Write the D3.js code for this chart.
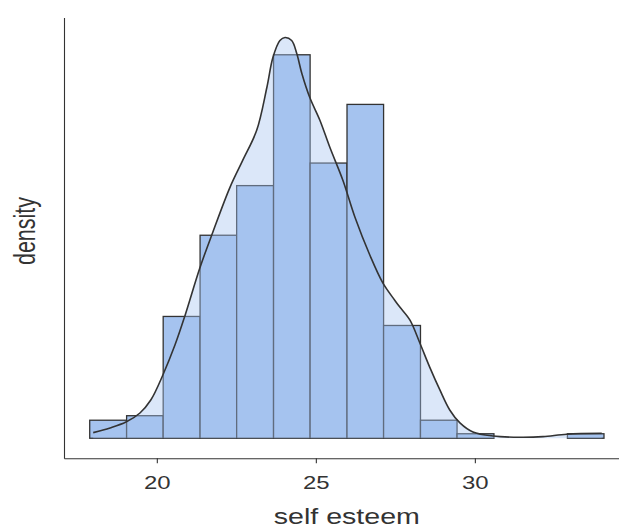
<!DOCTYPE html>
<html>
<head>
<meta charset="UTF-8">
<title>self esteem</title>
<script src="https://d3js.org/d3.v7.min.js"></script>
<style>
  body { margin: 0; background: #fff; }
  svg text { font-family: "Liberation Sans", Arial, sans-serif; fill: #333; }
  .axis path, .axis line { stroke: #333; stroke-width: 1.1px; }
</style>
</head>
<body>
<div class="display"></div>
<script>
// histogram bins (self esteem) and counts
const binEdges = [17.89, 19.05, 20.2, 21.36, 22.51, 23.67, 24.82, 25.98, 27.13, 28.29, 29.44, 30.6, 31.75, 32.91, 34.06];
const binCounts = [4, 5, 27, 45, 56, 85, 61, 74, 25, 4, 1, 0, 0, 1];

// kernel density estimate
const densityX = [18.0, 18.53, 19.03, 19.47, 19.81, 20.19, 20.57, 20.88, 21.35, 21.76, 22.3, 22.7, 23.14, 23.46, 23.65, 23.87, 24.03, 24.24, 24.4, 24.56, 24.81, 25.13, 25.44, 25.85, 26.23, 26.7, 27.11, 27.48, 27.64, 27.96, 28.27, 28.58, 28.9, 29.21, 29.53, 29.94, 30.57, 31.42, 32.14, 32.89, 33.99];
const densityY = [0.0028, 0.0051, 0.008, 0.0125, 0.0189, 0.0313, 0.0461, 0.0604, 0.0841, 0.1019, 0.1241, 0.1374, 0.1523, 0.1735, 0.1883, 0.1967, 0.1982, 0.1967, 0.1903, 0.1804, 0.1685, 0.1572, 0.1439, 0.1276, 0.1093, 0.0905, 0.0767, 0.0683, 0.0649, 0.0584, 0.0471, 0.0352, 0.0239, 0.014, 0.0076, 0.0031, 0.0011, 0.0005, 0.0008, 0.002, 0.0024];

const xTicks = [20, 25, 30];
const xTitle = 'self esteem';
const yTitle = 'density';

const W = 619, H = 529;
const stretch = 1.33;

const svg = d3.select('.display').append('svg')
  .attr('width', W)
  .attr('height', H);

const total = d3.sum(binCounts);
const binWidth = (binEdges[binEdges.length - 1] - binEdges[0]) / binCounts.length;
const bins = binCounts.map((c, i) => ({ x0: binEdges[i], x1: binEdges[i + 1], d: c / (total * binWidth) }));
const curve = densityX.map((x, i) => ({ x: x, y: densityY[i] }));

const xExt = d3.extent(binEdges);
const xPad = (xExt[1] - xExt[0]) * 0.05;
const x = d3.scaleLinear()
  .domain([xExt[0] - xPad, xExt[1] + xPad])
  .range([64, 629.7]);

const yMax = Math.max(d3.max(bins, b => b.d), d3.max(densityY));
const y = d3.scaleLinear()
  .domain([-0.05 * yMax, 1.05 * yMax])
  .range([458.3, 17.5]);

// bars
svg.append('g').selectAll('rect')
  .data(bins)
  .enter()
  .append('rect')
  .attr('x', d => x(d.x0))
  .attr('y', d => y(d.d))
  .attr('width', d => x(d.x1) - x(d.x0))
  .attr('height', d => y(0) - y(d.d))
  .attr('fill', '#a5c3ef')
  .attr('stroke', '#333')
  .attr('stroke-width', 1.3);

// density
const area = d3.area()
  .x(d => x(d.x))
  .y0(y(0))
  .y1(d => y(d.y))
  .curve(d3.curveCatmullRom);
const line = d3.line()
  .x(d => x(d.x))
  .y(d => y(d.y))
  .curve(d3.curveCatmullRom);

svg.append('path')
  .datum(curve)
  .attr('d', area)
  .attr('fill', 'rgba(165,195,239,0.4)');
svg.append('path')
  .datum(curve)
  .attr('d', line)
  .attr('fill', 'none')
  .attr('stroke', '#333')
  .attr('stroke-width', 1.6);

// axes
const xAxis = svg.append('g')
  .attr('class', 'axis')
  .attr('transform', `translate(0, ${y.range()[0]})`)
  .call(d3.axisBottom(x).tickValues(xTicks).tickSize(5).tickSizeOuter(0));
xAxis.selectAll('text')
  .attr('y', null)
  .attr('dy', null)
  .attr('transform', `translate(0, 31) scale(${stretch}, 1)`)
  .style('font-size', '18px')
  .style('fill', '#333');

svg.append('g')
  .attr('class', 'axis')
  .attr('transform', `translate(${x.range()[0]}, 0)`)
  .call(d3.axisLeft(y).tickValues([]).tickSizeOuter(0));

svg.selectAll('.axis text').attr('font-family', null);

svg.append('text')
  .attr('text-anchor', 'middle')
  .attr('transform', `translate(${(x.range()[0] + x.range()[1]) / 2}, 524) scale(${stretch}, 1)`)
  .style('font-size', '21.5px')
  .text(xTitle);

svg.append('text')
  .attr('text-anchor', 'middle')
  .attr('transform', `translate(35, 231) scale(${stretch}, 1) rotate(-90)`)
  .style('font-size', '21.5px')
  .text(yTitle);
</script>
</body>
</html>
